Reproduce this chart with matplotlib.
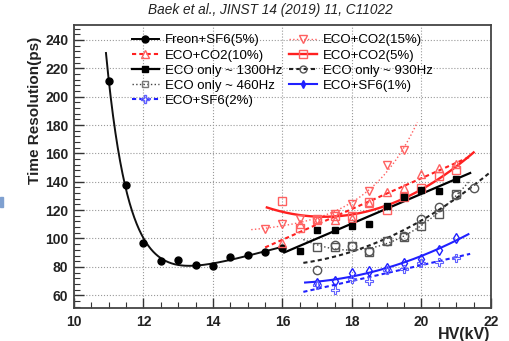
import numpy as np
import matplotlib
matplotlib.use("Agg")
import matplotlib.pyplot as plt
from matplotlib.ticker import MultipleLocator
from matplotlib.patches import Rectangle

plt.rcParams['font.family'] = ['Liberation Sans', 'DejaVu Sans']

# ---------------- data ----------------
freon_x = [11.0, 11.5, 12.0, 12.5, 13.0, 13.5, 14.0, 14.5, 15.0, 15.5, 16.0]
freon_y = [211, 137.4, 96.7, 84.4, 84.6, 81.0, 80.6, 86.7, 88.3, 90.7, 93.5]

co2_15_x = [15.5, 16.0, 16.5, 17.0, 17.5, 18.0, 18.5, 19.0, 19.5]
co2_15_y = [106.4, 110.1, 113.8, 113.3, 117.3, 124.5, 133.2, 151.5, 162.5]

co2_10_x = [16.0, 16.5, 17.0, 17.5, 18.0, 18.5, 19.0, 19.5, 20.0, 20.5, 21.0]
co2_10_y = [97.0, 110.0, 113.3, 113.0, 114.5, 125.0, 132.5, 135.5, 145.4, 150.0, 152.4]

co2_5_x = [16.0, 16.5, 17.0, 17.5, 18.0, 18.5, 19.0, 19.5, 20.0, 20.5, 21.0]
co2_5_y = [126.2, 107.4, 114.0, 115.6, 116.0, 125.5, 120.3, 129.0, 135.5, 144.2, 148.0]

eco1300_x = [16.5, 17.0, 17.5, 18.0, 18.5, 19.0, 19.5, 20.0, 20.5, 21.0]
eco1300_y = [91.5, 105.8, 105.8, 108.6, 110.5, 123.1, 129.0, 134.4, 133.2, 142.1]

eco930_x = [17.0, 17.5, 18.0, 18.5, 19.0, 19.5, 20.0, 20.5, 21.0, 21.5]
eco930_y = [78.1, 95.7, 95.0, 91.5, 98.0, 101.6, 114.0, 122.2, 130.9, 135.5]

eco460_x = [17.0, 17.5, 18.0, 18.5, 19.0, 19.5, 20.0, 20.5, 21.0]
eco460_y = [94.0, 93.8, 94.5, 90.3, 98.0, 101.1, 109.1, 117.3, 131.6]

sf6_1_x = [17.0, 17.5, 18.0, 18.5, 19.0, 19.5, 20.0, 20.5, 21.0]
sf6_1_y = [68.8, 70.0, 75.8, 77.0, 79.3, 82.8, 85.2, 92.2, 100.4]

sf6_2_x = [17.0, 17.5, 18.0, 18.5, 19.0, 19.5, 20.0, 20.5, 21.0]
sf6_2_y = [67.1, 63.4, 71.6, 70.0, 77.7, 78.6, 82.8, 83.3, 86.3]

labels = ["Freon+SF6(5%)", "ECO+CO2(10%)", "ECO only ~ 1300Hz", "ECO only ~ 460Hz",
          "ECO+SF6(2%)", "ECO+CO2(15%)", "ECO+CO2(5%)", "ECO only ~ 930Hz", "ECO+SF6(1%)"]

RED = '#ff2020'
LRED = '#ff6060'
BLUE = '#2020ff'

fig = plt.figure(figsize=(5.10, 3.41), dpi=100)
ax = fig.add_axes([74/510, 1 - 308/341, (491 - 74)/510, (308 - 25)/341])


def polyfit_curve(x, y, lo, hi, deg=2):
    c = np.polyfit(x, y, deg)
    xx = np.linspace(lo, hi, 200)
    return xx, np.polyval(c, xx)


def expfit_curve(x, y, lo, hi, x0, extra_linear=False, kmin=0.2, kmax=6):
    x = np.asarray(x, float); y = np.asarray(y, float)
    best = None
    for k in np.linspace(kmin, kmax, 400):
        cols = [np.ones_like(x), np.exp(k * (x - x0))]
        if extra_linear:
            cols.insert(1, x)
        A = np.vstack(cols).T
        c, *_ = np.linalg.lstsq(A, y, rcond=None)
        r = np.sum((A @ c - y) ** 2)
        if best is None or r < best[0]:
            best = (r, k, c)
    _, k, c = best
    xx = np.linspace(lo, hi, 300)
    cols = [np.ones_like(xx), np.exp(k * (xx - x0))]
    if extra_linear:
        cols.insert(1, xx)
    return xx, np.vstack(cols).T @ c


handles = {}

# Freon (decaying exponential + linear)
xx, yy = expfit_curve(freon_x, freon_y, 10.92, 16.0, 11.0, extra_linear=True, kmin=-6, kmax=-0.5)
ax.plot(xx, yy, color='#111111', lw=1.4, zorder=3)
ax.plot(freon_x, freon_y, 'o', color='black', ms=5, zorder=4)
handles[0] = ax.plot([], [], '-o', color='black', ms=5, lw=1.4)[0]

# CO2 15%
xx, yy = expfit_curve(co2_15_x, co2_15_y, 15.1, 19.88, 16.0)
ax.plot(xx, yy, ':', color=LRED, lw=1.0, zorder=3)
ax.plot(co2_15_x, co2_15_y, 'v', mfc='none', mec=LRED, ms=6, mew=1.0, zorder=4)
handles[5] = ax.plot([], [], ':v', color=LRED, mfc='none', mec=LRED, ms=6, lw=1.0)[0]

# CO2 10%
xx, yy = polyfit_curve(co2_10_x, co2_10_y, 15.5, 21.4, deg=1)
ax.plot(xx, yy, color=RED, lw=1.5, ls=(0, (2, 1.5)), zorder=3)
ax.plot(co2_10_x, co2_10_y, '^', mfc='none', mec=LRED, ms=6, mew=1.0, zorder=4)
handles[1] = ax.plot([], [], '^', ls=(0, (2, 1.5)), color=RED, mfc='none', mec=LRED, ms=6, lw=1.5)[0]

# CO2 5%
xx, yy = polyfit_curve(co2_5_x, co2_5_y, 15.55, 21.5)
ax.plot(xx, yy, '-', color=RED, lw=1.7, zorder=3)
ax.plot(co2_5_x, co2_5_y, 's', mfc='none', mec=LRED, ms=6, mew=1.0, zorder=4)
handles[6] = ax.plot([], [], '-s', color=RED, mfc='none', mec=LRED, ms=6, lw=1.7)[0]

# ECO 1300
xx, yy = polyfit_curve(eco1300_x, eco1300_y, 16.05, 21.4, deg=1)
ax.plot(xx, yy, '-', color='black', lw=1.6, zorder=3)
ax.plot(eco1300_x, eco1300_y, 's', color='black', ms=5, zorder=4)
handles[2] = ax.plot([], [], '-s', color='black', ms=5, lw=1.6)[0]

# ECO 930
xx, yy = polyfit_curve(eco930_x, eco930_y, 16.6, 22.0, deg=2)
ax.plot(xx, yy, color='#222222', lw=1.5, ls=(0, (2, 1.5)), zorder=3)
ax.plot(eco930_x, eco930_y, 'o', mfc='none', mec='#555555', ms=6, mew=1.0, zorder=4)
handles[7] = ax.plot([], [], 'o', ls=(0, (2, 1.5)), color='#222222', mfc='none', mec='#555555', ms=5, lw=1.5)[0]

# ECO 460
xx, yy = polyfit_curve(eco460_x, eco460_y, 16.6, 21.4)
ax.plot(xx, yy, ':', color='#444444', lw=1.0, zorder=3)
ax.plot(eco460_x, eco460_y, 's', mfc='none', mec='#555555', ms=6, mew=1.0, zorder=4)
handles[3] = ax.plot([], [], ':s', color='#444444', mfc='none', mec='#777777', ms=5, lw=1.0)[0]

# SF6 1%
xx, yy = polyfit_curve(sf6_1_x, sf6_1_y, 16.65, 21.35)
ax.plot(xx, yy, '-', color=BLUE, lw=1.5, zorder=3)
ax.plot(sf6_1_x, sf6_1_y, 'd', mfc='none', mec=BLUE, ms=5, mew=1.0, zorder=4)
handles[8] = ax.plot([], [], '-d', color=BLUE, ms=4, lw=1.5)[0]

# SF6 2%
xx, yy = polyfit_curve(sf6_2_x, sf6_2_y, 16.6, 21.4)
ax.plot(xx, yy, color=BLUE, lw=1.5, ls=(0, (2, 1.5)), zorder=3)
ax.plot(sf6_2_x, sf6_2_y, 'P', mfc='none', mec='#6060ff', ms=6, mew=0.8, zorder=4)
handles[4] = ax.plot([], [], 'P', ls=(0, (2, 1.5)), color=BLUE, mfc='none', mec='#6060ff', ms=6, lw=1.5)[0]

order = [0, 1, 2, 3, 4, 5, 6, 7, 8]
leg = ax.legend([handles[i] for i in order], [labels[i] for i in order], ncol=2,
                loc='upper left', bbox_to_anchor=(0.116, 1.0), frameon=False,
                fontsize=9.5, handlelength=2.1, handletextpad=0.45, columnspacing=0.5,
                labelspacing=0.22, borderaxespad=0.3)

ax.set_xlim(10, 22)
ax.set_ylim(51, 250.5)
ax.xaxis.set_major_locator(MultipleLocator(2))
ax.xaxis.set_minor_locator(MultipleLocator(0.5))
ax.yaxis.set_major_locator(MultipleLocator(20))
ax.yaxis.set_minor_locator(MultipleLocator(4))
ax.tick_params(which='both', direction='in', top=False, right=False, colors='#333333')
ax.tick_params(which='major', length=7, width=1.0, labelsize=10)
ax.tick_params(which='minor', length=4, width=0.8)
ax.tick_params(axis='x', which='major', pad=5)
ax.tick_params(axis='y', which='major', pad=4)
for lab in ax.get_xticklabels() + ax.get_yticklabels():
    lab.set_fontweight('bold')
    lab.set_color('#222222')
ax.grid(True, which='major', ls=':', color='#999999', lw=0.8)
for s in ax.spines.values():
    s.set_color('#444444')
    s.set_linewidth(1.3)

fig.text(35/510, 1 - 110/341, "Time Resolution(ps)", rotation=90, ha='center', va='center',
         fontsize=11, fontweight='bold', color='#222222')
fig.text(490/510, 1 - 335/341, "HV(kV)", ha='right', va='center',
         fontsize=11.5, fontweight='bold', color='#222222')
fig.text(270/510, 1 - 10/341, "Baek et al., JINST 14 (2019) 11, C11022", ha='center', va='center',
         fontsize=9.8, style='italic', color='#222222')

fig.patches.append(Rectangle((0, 1 - 207/341), 3/510, 10/341, transform=fig.transFigure,
                             color='#7fa0d0', zorder=0))

fig.savefig('out.png', dpi=100)
